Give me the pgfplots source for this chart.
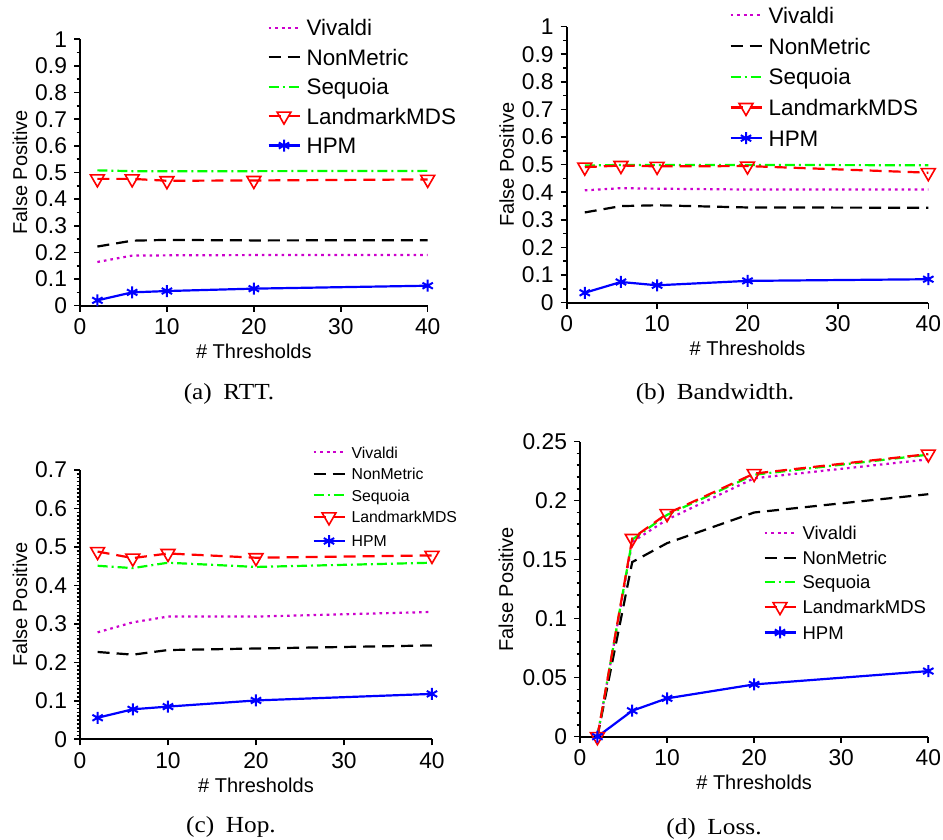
\documentclass[border=0pt]{standalone}
\usepackage{fontspec}
\setmainfont{Liberation Sans}
\newfontfamily\capfont[FakeStretch=1.1]{Liberation Serif}
\usepackage{pgfplots}
\pgfplotsset{compat=1.18}

\definecolor{vivcol}{rgb}{0.8,0,0.8}

\pgfplotsset{
  viv/.style={color=vivcol, line width=1.1pt, dash pattern=on 1.3pt off 2pt, mark=none},
  nonm/.style={color=black, line width=1.1pt, dash pattern=on 6pt off 3.5pt, mark=none},
  seq/.style={color=green, line width=1.1pt, dash pattern=on 5pt off 2pt on 1pt off 2pt, mark=none},
  lmds/.style={color=red, line width=1.1pt, dash pattern=on 6pt off 3.5pt, mark=triangle, mark size=4pt,
    mark options={solid, rotate=180, line width=0.8pt}},
  hpm/.style={color=blue, line width=1.1pt, solid, mark=asterisk, mark size=3pt,
    mark options={solid, line width=1pt}},
  fp/.style={
    scale only axis, axis lines=left, axis line style={-, line width=1pt},
    xmin=0, xmax=40, ymin=0, xtick={0,10,20,30,40},
    tick align=outside, major tick length=3pt, minor tick length=1.7pt,
    every tick/.style={black, line width=0.8pt},
    tick label style={font=\fontsize{11.4}{12}\selectfont},
    label style={font=\fontsize{11.3}{12}\selectfont},
    /pgf/number format/assume math mode=true,
    scaled y ticks=false,
    yticklabel style={/pgf/number format/fixed, /pgf/number format/precision=2},
    xlabel={\# Thresholds}, ylabel={False Positive},
    every axis x label/.style={at={([yshift=-26.5pt]axis description cs:0.5,0)}, anchor=base},
    every axis y label/.style={at={([xshift=-30pt]axis description cs:0,0.5)}, anchor=center, rotate=90},
    clip=false,
    legend cell align=left,
    legend image code/.code={\draw[mark repeat=2,mark phase=2] plot coordinates {(0pt,0pt) (7.75pt,0pt) (15.5pt,0pt)};},
  },
}

\begin{document}
\begin{tikzpicture}
\useasboundingbox (0,0) rectangle (471.5pt,420pt);

% (a) RTT
\begin{axis}[fp, at={(40pt,267.15pt)}, anchor=south west, width=173.85pt, height=133.2pt,
  ymax=1, ytick={0,0.1,...,1}, minor y tick num=1,
  legend style={at={([xshift=93.5pt,yshift=10pt]axis description cs:0,1)}, anchor=north west,
    draw=none, fill=none, inner sep=0pt, row sep=6.73pt, column sep=3pt,
    font=\fontsize{11.2}{12}\selectfont, nodes={inner sep=0pt, text height=8pt, text depth=0pt}}]
\addplot[viv]  coordinates {(2,0.164) (6,0.188) (10,0.189) (20,0.190) (40,0.190)};
\addplot[nonm] coordinates {(2,0.222) (6,0.244) (10,0.247) (20,0.245) (40,0.246)};
\addplot[seq]  coordinates {(2,0.508) (6,0.505) (10,0.505) (20,0.505) (40,0.506)};
\addplot[lmds] coordinates {(2,0.476) (6,0.476) (10,0.469) (20,0.470) (40,0.474)};
\addplot[hpm]  coordinates {(2,0.020) (6,0.050) (10,0.055) (20,0.064) (40,0.075)};
\legend{Vivaldi,NonMetric,Sequoia,LandmarkMDS,HPM}
\end{axis}

% (b) Bandwidth
\begin{axis}[fp, at={(283.35pt,268.65pt)}, anchor=south west, width=180.8pt, height=138pt,
  ymax=1, ytick={0,0.1,...,1}, minor y tick num=1,
  legend style={at={([xshift=81.15pt,yshift=9.85pt]axis description cs:0,1)}, anchor=north west,
    draw=none, fill=none, inner sep=0pt, row sep=7.35pt, column sep=3pt,
    font=\fontsize{11.2}{12}\selectfont, nodes={inner sep=0pt, text height=8pt, text depth=0pt}}]
\addplot[viv]  coordinates {(2,0.407) (6,0.415) (10,0.413) (20,0.410) (40,0.410)};
\addplot[nonm] coordinates {(2,0.327) (6,0.350) (10,0.353) (20,0.345) (40,0.344)};
\addplot[seq]  coordinates {(2,0.497) (6,0.499) (10,0.499) (20,0.499) (40,0.498)};
\addplot[lmds] coordinates {(2,0.491) (6,0.497) (10,0.494) (20,0.495) (40,0.471)};
\addplot[hpm]  coordinates {(2,0.036) (6,0.075) (10,0.063) (20,0.079) (40,0.085)};
\legend{Vivaldi,NonMetric,Sequoia,LandmarkMDS,HPM}
\end{axis}

% (c) Hop
\begin{axis}[fp, at={(40pt,50.35pt)}, anchor=south west, width=176pt, height=134.65pt,
  ymax=0.7, ytick={0,0.1,...,0.7}, minor y tick num=9,
  legend style={at={([xshift=116pt,yshift=11.85pt]axis description cs:0,1)}, anchor=north west,
    draw=none, fill=none, inner sep=0pt, row sep=5.09pt, column sep=3pt,
    font=\fontsize{7.9}{9}\selectfont, nodes={inner sep=0pt, text height=5.66pt, text depth=0pt}}]
\addplot[viv]  coordinates {(2,0.278) (6,0.304) (10,0.319) (20,0.319) (40,0.331)};
\addplot[nonm] coordinates {(2,0.227) (6,0.220) (10,0.232) (20,0.236) (40,0.244)};
\addplot[seq]  coordinates {(2,0.451) (6,0.445) (10,0.459) (20,0.448) (40,0.459)};
\addplot[lmds] coordinates {(2,0.488) (6,0.471) (10,0.483) (20,0.472) (40,0.478)};
\addplot[hpm]  coordinates {(2,0.056) (6,0.078) (10,0.085) (20,0.101) (40,0.118)};
\legend{Vivaldi,NonMetric,Sequoia,LandmarkMDS,HPM}
\end{axis}

% (d) Loss
\begin{axis}[fp, at={(290pt,51.65pt)}, anchor=south west, width=174.15pt, height=147.5pt,
  ymax=0.25, ytick={0,0.05,0.1,0.15,0.2,0.25}, minor y tick num=4,
  every axis y label/.style={at={([xshift=-37pt]axis description cs:0,0.5)}, anchor=center, rotate=90},
  legend style={at={([xshift=91.5pt,yshift=-42.2pt]axis description cs:0,1)}, anchor=north west,
    draw=none, fill=none, inner sep=0pt, row sep=5.63pt, column sep=3pt,
    font=\fontsize{9.25}{10}\selectfont, nodes={inner sep=0pt, text height=6.62pt, text depth=0pt}}]
\addplot[viv]  coordinates {(2,0) (6,0.165) (10,0.184) (20,0.219) (40,0.235)};
\addplot[nonm] coordinates {(2,0) (6,0.148) (10,0.164) (20,0.190) (40,0.2055)};
\addplot[seq]  coordinates {(2,0) (6,0.167) (10,0.188) (20,0.222) (40,0.239)};
\addplot[lmds] coordinates {(2,0) (6,0.168) (10,0.189) (20,0.223) (40,0.2395)};
\addplot[hpm]  coordinates {(2,0) (6,0.022) (10,0.0325) (20,0.0443) (40,0.0556)};
\legend{Vivaldi,NonMetric,Sequoia,LandmarkMDS,HPM}
\end{axis}

% sub-figure captions
\begin{scope}[every node/.style={anchor=base, font=\capfont\fontsize{11.5}{12}\selectfont, inner sep=0pt}]
\node at (114.5pt,220pt) {(a)\hspace{5.8pt}RTT.};
\node at (357.5pt,220pt) {(b)\hspace{5.8pt}Bandwidth.};
\node at (115.5pt,3.5pt) {(c)\hspace{5.8pt}Hop.};
\node at (357pt,2.5pt) {(d)\hspace{5.8pt}Loss.};
\end{scope}
\end{tikzpicture}
\end{document}
